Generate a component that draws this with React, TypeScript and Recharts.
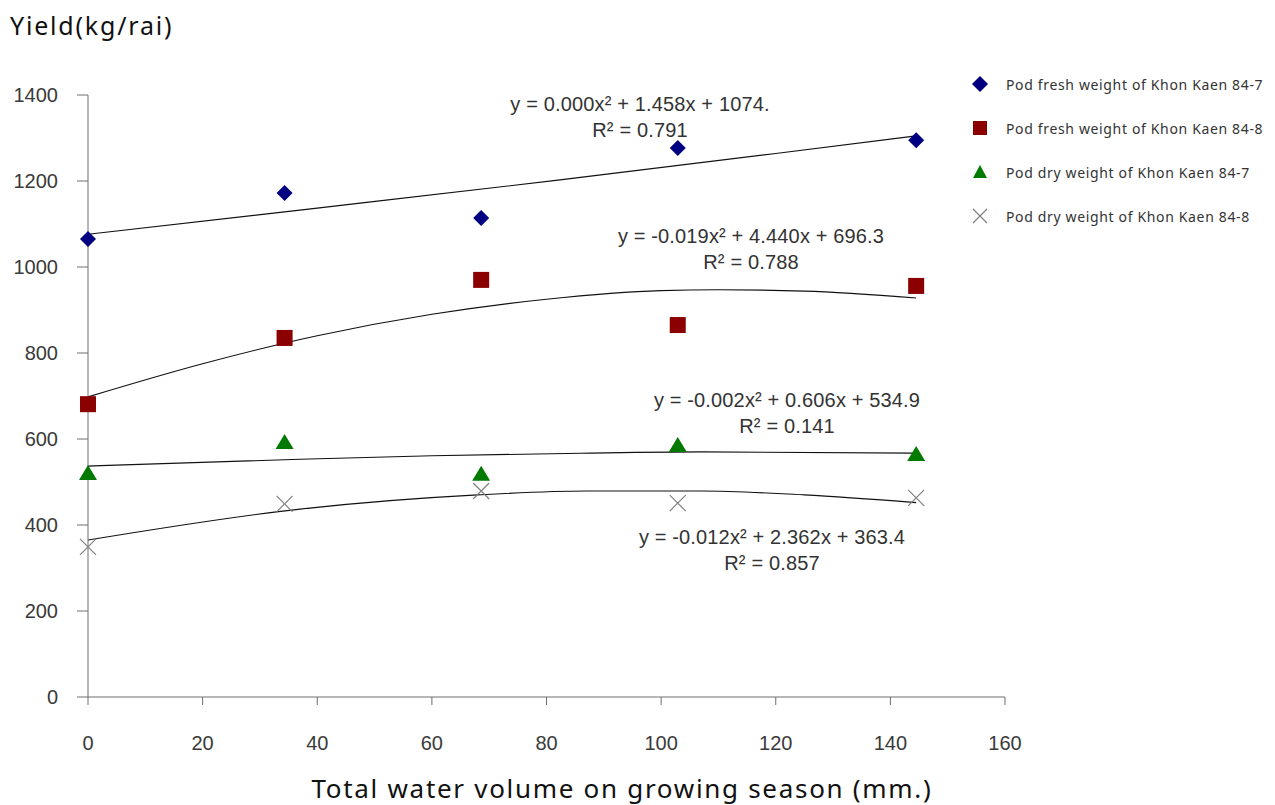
import {
  ComposedChart, Line, Scatter, XAxis, YAxis,
} from 'recharts';

// water volume (mm.) of the five treatments
const WATER = [0, 34.3, 68.6, 102.9, 144.5];

// yields (kg/rai)
const FRESH_847 = [1065, 1172, 1114, 1277, 1295];
const FRESH_848 = [681, 835, 970, 865, 956];
const DRY_847 = [521, 593, 519, 586, 565];
const DRY_848 = [349, 449, 479, 451, 463];

// trend lines
const TREND_FRESH_847_X = [0, 40, 82, 120, 144.5];
const TREND_FRESH_847_Y = [1076, 1137, 1202, 1264, 1305];
const TREND_FRESH_848_X = [0, 20, 40, 60, 80, 100, 110, 125, 144.5];
const TREND_FRESH_848_Y = [698, 775, 840, 890, 925, 945, 947, 944, 928];
const TREND_DRY_847_X = [0, 37, 60, 86, 107, 144.5];
const TREND_DRY_847_Y = [537, 553, 561, 567, 570, 567];
const TREND_DRY_848_X = [0, 37, 68, 87, 107, 125, 144.5];
const TREND_DRY_848_Y = [365, 437, 470, 479, 479, 470, 452];

const X_TICKS = [0, 20, 40, 60, 80, 100, 120, 140, 160];
const Y_TICKS = [0, 200, 400, 600, 800, 1000, 1200, 1400];

const SERIES_NAMES = [
  'Pod fresh weight of Khon Kaen 84-7',
  'Pod fresh weight of Khon Kaen 84-8',
  'Pod dry weight of Khon Kaen 84-7',
  'Pod dry weight of Khon Kaen 84-8',
];

const EQUATIONS = [
  ['y = 0.000x² + 1.458x + 1074.', 'R² = 0.791'],
  ['y = -0.019x² + 4.440x + 696.3', 'R² = 0.788'],
  ['y = -0.002x² + 0.606x + 534.9', 'R² = 0.141'],
  ['y = -0.012x² + 2.362x + 363.4', 'R² = 0.857'],
];

const pts = (xs: number[], ys: number[]) => xs.map((x, i) => ({ x, y: ys[i] }));

const NAVY = '#000080';
const DARKRED = '#8b0000';
const GREEN = '#007a00';
const GREY = '#808080';

const Diamond = ({ cx, cy }: any) => (
  <path d={`M${cx},${cy - 8}L${cx + 8},${cy}L${cx},${cy + 8}L${cx - 8},${cy}Z`} fill={NAVY} />
);
const Square = ({ cx, cy }: any) => (
  <rect x={cx - 8} y={cy - 8} width={16} height={16} fill={DARKRED} />
);
const Triangle = ({ cx, cy }: any) => (
  <path d={`M${cx},${cy - 8}L${cx + 9},${cy + 7}L${cx - 9},${cy + 7}Z`} fill={GREEN} />
);
const Cross = ({ cx, cy }: any) => (
  <path d={`M${cx - 8},${cy - 8}L${cx + 8},${cy + 8}M${cx + 8},${cy - 8}L${cx - 8},${cy + 8}`}
    stroke={GREY} strokeWidth={1.2} fill="none" />
);

const legendMarkers = [
  <svg width={18} height={18}><Diamond cx={9} cy={9} /></svg>,
  <svg width={18} height={18}><rect x={2} y={2} width={14} height={14} fill={DARKRED} /></svg>,
  <svg width={18} height={18}><path d="M9,2L16,15L2,15Z" fill={GREEN} /></svg>,
  <svg width={18} height={18}><path d="M2,2L16,16M16,2L2,16" stroke={GREY} strokeWidth={1.2} /></svg>,
];

// text centres of the equation labels (page px)
const EQ_POS = [
  { left: 640, top: 104 },
  { left: 751, top: 236 },
  { left: 787, top: 400 },
  { left: 772, top: 537 },
];

const axisStroke = '#6e6e6e';
const tickStyle = { fill: '#3a3a3a', fontSize: 20, fontFamily: 'Liberation Sans, Arial, sans-serif' };

export default function App() {
  return (
    <div style={{ position: 'relative', width: 1267, height: 797 }}>
      <ComposedChart width={1267} height={797} margin={{ top: 87, right: 270, bottom: 48, left: 20 }}>
        <XAxis
          type="number"
          dataKey="x"
          domain={[0, 160]}
          ticks={X_TICKS}
          interval={0}
          stroke={axisStroke}
          tickSize={8}
          tickMargin={31}
          tick={tickStyle}
          height={60}
        />
        <YAxis
          type="number"
          dataKey="y"
          domain={[0, 1400]}
          ticks={Y_TICKS}
          interval={0}
          stroke={axisStroke}
          tickSize={11}
          tickMargin={19}
          tick={tickStyle}
          width={60}
        />
        <Line data={pts(TREND_FRESH_847_X, TREND_FRESH_847_Y)} dataKey="y" type="monotone" stroke="#111" strokeWidth={1.1} dot={false} isAnimationActive={false} />
        <Line data={pts(TREND_FRESH_848_X, TREND_FRESH_848_Y)} dataKey="y" type="monotone" stroke="#111" strokeWidth={1.1} dot={false} isAnimationActive={false} />
        <Line data={pts(TREND_DRY_847_X, TREND_DRY_847_Y)} dataKey="y" type="monotone" stroke="#111" strokeWidth={1.1} dot={false} isAnimationActive={false} />
        <Line data={pts(TREND_DRY_848_X, TREND_DRY_848_Y)} dataKey="y" type="monotone" stroke="#111" strokeWidth={1.1} dot={false} isAnimationActive={false} />
        <Scatter data={pts(WATER, FRESH_847)} dataKey="y" shape={(p: any) => <Diamond {...p} />} isAnimationActive={false} />
        <Scatter data={pts(WATER, FRESH_848)} dataKey="y" shape={(p: any) => <Square {...p} />} isAnimationActive={false} />
        <Scatter data={pts(WATER, DRY_847)} dataKey="y" shape={(p: any) => <Triangle {...p} />} isAnimationActive={false} />
        <Scatter data={pts(WATER, DRY_848)} dataKey="y" shape={(p: any) => <Cross {...p} />} isAnimationActive={false} />
      </ComposedChart>

      <div style={{
        position: 'absolute', left: 2, top: 0, fontFamily: 'Noto Sans, sans-serif',
        fontSize: 25, letterSpacing: 1.8, color: '#111', lineHeight: '34px',
      }}>
        Yield(kg/rai)
      </div>

      <div style={{
        position: 'absolute', left: 0, width: 1228, top: 767, textAlign: 'center',
        fontFamily: 'Noto Sans, sans-serif', fontSize: 26, letterSpacing: 1.7, color: '#111', lineHeight: '26px',
      }}>
        Total water volume on growing season (mm.)
      </div>

      {EQUATIONS.map((eq, i) => (
        <div key={i} style={{
          position: 'absolute', left: EQ_POS[i].left - 8 - 200, width: 400, top: EQ_POS[i].top - 8 - 13,
          textAlign: 'center', fontFamily: 'Liberation Sans, Arial, sans-serif', fontSize: 20,
          letterSpacing: 0.15, color: '#333', lineHeight: '26px',
        }}>
          <div>{eq[0]}</div>
          <div>{eq[1]}</div>
        </div>
      ))}

      {SERIES_NAMES.map((name, i) => (
        <div key={name} style={{
          position: 'absolute', left: 963, top: 66 + i * 44, display: 'flex', alignItems: 'center',
          fontFamily: 'Noto Sans, sans-serif', fontSize: 14, letterSpacing: 0.65, color: '#333',
          whiteSpace: 'nowrap', height: 20,
        }}>
          <span style={{ width: 18, height: 18, display: 'inline-block' }}>{legendMarkers[i]}</span>
          <span style={{ marginLeft: 17 }}>{name}</span>
        </div>
      ))}
    </div>
  );
}
